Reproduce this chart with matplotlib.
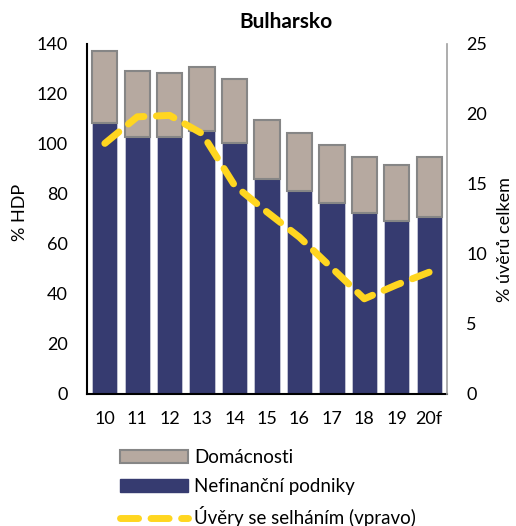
import matplotlib
matplotlib.use("Agg")
import matplotlib.pyplot as plt
import numpy as np
from matplotlib.patches import Patch
from matplotlib.lines import Line2D

plt.rcParams['font.family'] = ['Lato', 'DejaVu Sans']

years = ["10", "11", "12", "13", "14", "15", "16", "17", "18", "19", "20f"]
nefinancni = [108.3, 102.7, 102.7, 105.3, 100.3, 85.9, 81.1, 76.4, 72.5, 69.2, 70.7]
domacnosti = [29.0, 26.6, 25.8, 25.6, 25.8, 23.6, 23.4, 23.3, 22.4, 22.5, 24.2]
npl = [17.9, 19.8, 19.9, 18.6, 14.9, 13.0, 11.2, 9.0, 6.8, 7.8, 8.7]

navy = "#363B70"
beige = "#B6A9A0"
yellow = "#FFD620"

fig = plt.figure(figsize=(5.16, 5.26), dpi=100)
ax = fig.add_axes([87/516, 1 - 394/526, 360/516, 350/526])
x = np.arange(len(years))
w = 0.78
ax.bar(x, nefinancni, width=w, color=navy, edgecolor="#C8CAD8", linewidth=0.6, zorder=2)
ax.bar(x, domacnosti, width=w, bottom=nefinancni, color=beige, edgecolor="#868686", linewidth=1.5, zorder=2)
ax.set_ylim(0, 140)
ax.set_yticks(range(0, 141, 20))
ax.set_xlim(-0.55, len(years) - 0.45)
ax.set_xticks(x)
ax.set_xticklabels(years)
ax.tick_params(axis='both', length=0, labelsize=13)
ax.tick_params(axis='x', pad=12)
ax.tick_params(axis='y', pad=14)
ax.set_ylabel("% HDP", fontsize=13)
ax.yaxis.set_label_coords(-0.165, 0.52)
for s in ["top", "right"]:
    ax.spines[s].set_visible(False)
ax.spines["left"].set_linewidth(1.5)
ax.spines["bottom"].set_linewidth(1.5)

ax2 = ax.twinx()
ax2.plot(x, npl, color=yellow, linewidth=5, dashes=(2.6, 1.8), dash_capstyle='round', zorder=3)
ax2.set_ylim(0, 25)
ax2.set_yticks(range(0, 26, 5))
ax2.tick_params(axis='y', length=0, labelsize=13, pad=14)
ax2.set_ylabel("% úvěrů celkem", fontsize=13)
ax2.yaxis.set_label_coords(1.14, 0.44)
for s in ["top", "left", "bottom"]:
    ax2.spines[s].set_visible(False)
ax2.spines["right"].set_color("#A0A0A0")
ax2.spines["right"].set_linewidth(1.2)

fig.text(286/516, 1 - 22/526, "Bulharsko", ha="center", va="center", fontsize=15, fontweight="bold")

handles = [
    Patch(facecolor=beige, edgecolor="#868686", linewidth=1.5, label="Domácnosti"),
    Patch(facecolor=navy, edgecolor=navy, label="Nefinanční podniky"),
    Line2D([0], [0], color=yellow, linewidth=5, dashes=(2.6, 1.8), dash_capstyle='round', label="Úvěry se selháním (vpravo)"),
]
fig.legend(handles=handles, loc="upper left", bbox_to_anchor=(120/516, 1 - 449/526), frameon=False,
           fontsize=13.5, handlelength=3.6, handleheight=0.7, handletextpad=0.35, labelspacing=0.62,
           borderaxespad=0, borderpad=0)

fig.savefig("out.png", dpi=100)
